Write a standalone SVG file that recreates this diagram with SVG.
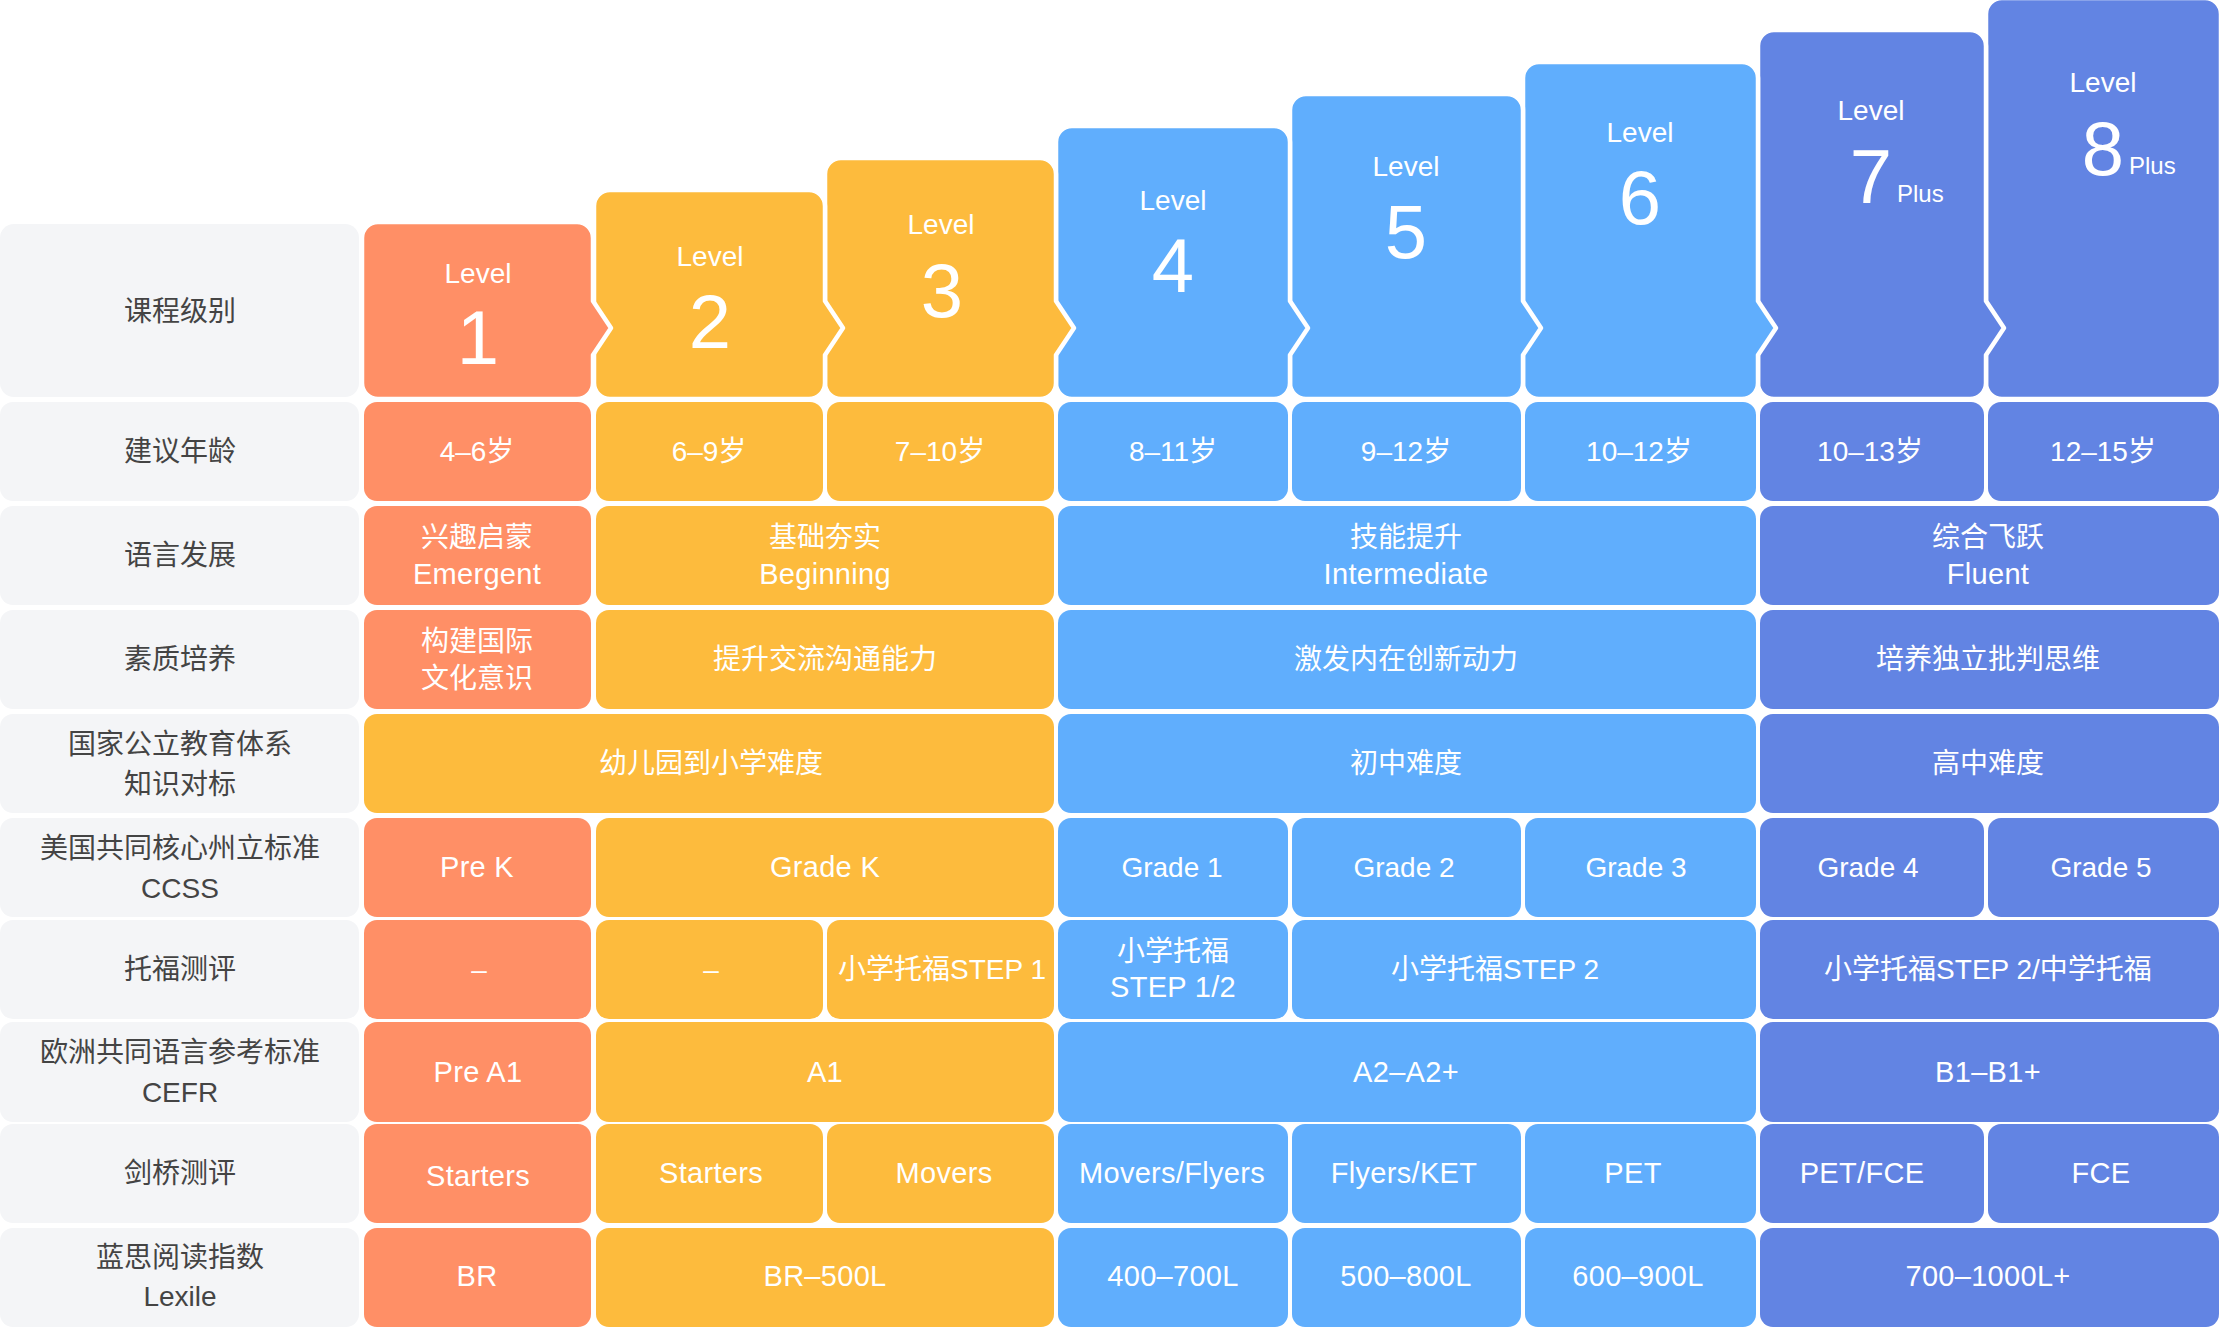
<svg xmlns="http://www.w3.org/2000/svg" width="2220" height="1328" viewBox="0 0 2220 1328">
<style>
.bg{fill:#ffffff}
.lab{fill:#F4F5F7}
.o{fill:#FF8F66}
.y{fill:#FDBB3D}
.b{fill:#60AEFD}
.i{fill:#6284E3}
.hd{stroke:#ffffff;stroke-width:4.5;stroke-linejoin:round}
text{font-family:"Liberation Sans","Noto Sans CJK SC",sans-serif;text-anchor:middle}
.lt{font-size:28px;fill:#444444}
.ct{font-size:28px;fill:#ffffff}
.en{font-size:29px;letter-spacing:0.3px}
.lv{font-size:28px;fill:#ffffff}
.nm{font-size:76px;fill:#ffffff}
.pl{font-size:24px;fill:#ffffff;text-anchor:start}
</style>
<rect class="bg" x="0" y="0" width="2220" height="1328"/>

<!-- header level blocks, drawn right to left so each chevron overlaps the next block -->
<g id="level-headers">
  <g id="level8">
    <path class="i hd" d="M2002,-2 H2205 A16,16 0 0 1 2221,14 V383 A16,16 0 0 1 2205,399 H2002 A16,16 0 0 1 1986,383 V14 A16,16 0 0 1 2002,-2 Z"/>
    <text class="lv" x="2103" y="92">Level</text>
    <text class="nm" x="2103" y="175">8</text>
    <text class="pl" x="2129" y="174">Plus</text>
  </g>
  <g id="level7">
    <path class="i hd" d="M1774,30 H1970 A16,16 0 0 1 1986,46 V301 L2004,328 L1986,355 V383 A16,16 0 0 1 1970,399 H1774 A16,16 0 0 1 1758,383 V46 A16,16 0 0 1 1774,30 Z"/>
    <text class="lv" x="1871" y="120">Level</text>
    <text class="nm" x="1871" y="203">7</text>
    <text class="pl" x="1897" y="202">Plus</text>
  </g>
  <g id="level6">
    <path class="b hd" d="M1539,62 H1742 A16,16 0 0 1 1758,78 V301 L1776,328 L1758,355 V383 A16,16 0 0 1 1742,399 H1539 A16,16 0 0 1 1523,383 V78 A16,16 0 0 1 1539,62 Z"/>
    <text class="lv" x="1640" y="142">Level</text>
    <text class="nm" x="1640" y="224">6</text>
  </g>
  <g id="level5">
    <path class="b hd" d="M1306,94 H1507 A16,16 0 0 1 1523,110 V301 L1541,328 L1523,355 V383 A16,16 0 0 1 1507,399 H1306 A16,16 0 0 1 1290,383 V110 A16,16 0 0 1 1306,94 Z"/>
    <text class="lv" x="1406" y="176">Level</text>
    <text class="nm" x="1406" y="258">5</text>
  </g>
  <g id="level4">
    <path class="b hd" d="M1072,126 H1274 A16,16 0 0 1 1290,142 V301 L1308,328 L1290,355 V383 A16,16 0 0 1 1274,399 H1072 A16,16 0 0 1 1056,383 V142 A16,16 0 0 1 1072,126 Z"/>
    <text class="lv" x="1173" y="210">Level</text>
    <text class="nm" x="1173" y="292">4</text>
  </g>
  <g id="level3">
    <path class="y hd" d="M841,158 H1040 A16,16 0 0 1 1056,174 V301 L1074,328 L1056,355 V383 A16,16 0 0 1 1040,399 H841 A16,16 0 0 1 825,383 V174 A16,16 0 0 1 841,158 Z"/>
    <text class="lv" x="941" y="234">Level</text>
    <text class="nm" x="942" y="317">3</text>
  </g>
  <g id="level2">
    <path class="y hd" d="M610,190 H809 A16,16 0 0 1 825,206 V301 L843,328 L825,355 V383 A16,16 0 0 1 809,399 H610 A16,16 0 0 1 594,383 V206 A16,16 0 0 1 610,190 Z"/>
    <text class="lv" x="710" y="266">Level</text>
    <text class="nm" x="710" y="348">2</text>
  </g>
  <g id="level1">
    <path class="o hd" d="M378,222 H577 A16,16 0 0 1 593,238 V301 L611,328 L593,355 V383 A16,16 0 0 1 577,399 H378 A16,16 0 0 1 362,383 V238 A16,16 0 0 1 378,222 Z"/>
    <text class="lv" x="478" y="283">Level</text>
    <text class="nm" x="478" y="364">1</text>
  </g>
</g>

<!-- row labels -->
<g id="row-labels">
  <g id="label-level"><rect class="lab" x="0" y="224" width="359" height="173" rx="14"/><text class="lt" x="180" y="321">课程级别</text></g>
  <g id="label-age"><rect class="lab" x="0" y="402" width="359" height="99" rx="13"/><text class="lt" x="180" y="461">建议年龄</text></g>
  <g id="label-language"><rect class="lab" x="0" y="506" width="359" height="99" rx="13"/><text class="lt" x="180" y="565">语言发展</text></g>
  <g id="label-quality"><rect class="lab" x="0" y="610" width="359" height="99" rx="13"/><text class="lt" x="180" y="669">素质培养</text></g>
  <g id="label-national"><rect class="lab" x="0" y="714" width="359" height="99" rx="13"/><text class="lt" x="180" y="754">国家公立教育体系</text><text class="lt" x="180" y="794">知识对标</text></g>
  <g id="label-ccss"><rect class="lab" x="0" y="818" width="359" height="99" rx="13"/><text class="lt" x="180" y="858">美国共同核心州立标准</text><text class="lt" x="180" y="898">CCSS</text></g>
  <g id="label-toefl"><rect class="lab" x="0" y="920" width="359" height="99" rx="13"/><text class="lt" x="180" y="979">托福测评</text></g>
  <g id="label-cefr"><rect class="lab" x="0" y="1022" width="359" height="100" rx="13"/><text class="lt" x="180" y="1062">欧洲共同语言参考标准</text><text class="lt" x="180" y="1102">CEFR</text></g>
  <g id="label-cambridge"><rect class="lab" x="0" y="1124" width="359" height="99" rx="13"/><text class="lt" x="180" y="1183">剑桥测评</text></g>
  <g id="label-lexile"><rect class="lab" x="0" y="1228" width="359" height="99" rx="13"/><text class="lt" x="180" y="1267">蓝思阅读指数</text><text class="lt" x="180" y="1306">Lexile</text></g>
</g>

<!-- row: 建议年龄 -->
<g id="row-age">
  <g id="age-l1"><rect class="o" x="364" y="402" width="227" height="99" rx="13"/><text class="ct" x="477" y="461">4–6岁</text></g>
  <g id="age-l2"><rect class="y" x="596" y="402" width="227" height="99" rx="13"/><text class="ct" x="709" y="461">6–9岁</text></g>
  <g id="age-l3"><rect class="y" x="827" y="402" width="227" height="99" rx="13"/><text class="ct" x="940" y="461">7–10岁</text></g>
  <g id="age-l4"><rect class="b" x="1058" y="402" width="230" height="99" rx="13"/><text class="ct" x="1173" y="461">8–11岁</text></g>
  <g id="age-l5"><rect class="b" x="1292" y="402" width="229" height="99" rx="13"/><text class="ct" x="1406" y="461">9–12岁</text></g>
  <g id="age-l6"><rect class="b" x="1525" y="402" width="231" height="99" rx="13"/><text class="ct" x="1639" y="461">10–12岁</text></g>
  <g id="age-l7"><rect class="i" x="1760" y="402" width="224" height="99" rx="13"/><text class="ct" x="1870" y="461">10–13岁</text></g>
  <g id="age-l8"><rect class="i" x="1988" y="402" width="231" height="99" rx="13"/><text class="ct" x="2103" y="461">12–15岁</text></g>
</g>

<!-- row: 语言发展 -->
<g id="row-language">
  <g id="lang-l1"><rect class="o" x="364" y="506" width="227" height="99" rx="13"/><text class="ct" x="477" y="547">兴趣启蒙</text><text class="ct en" x="477" y="584">Emergent</text></g>
  <g id="lang-l23"><rect class="y" x="596" y="506" width="458" height="99" rx="13"/><text class="ct" x="825" y="547">基础夯实</text><text class="ct en" x="825" y="584">Beginning</text></g>
  <g id="lang-l46"><rect class="b" x="1058" y="506" width="698" height="99" rx="13"/><text class="ct" x="1406" y="547">技能提升</text><text class="ct en" x="1406" y="584">Intermediate</text></g>
  <g id="lang-l78"><rect class="i" x="1760" y="506" width="459" height="99" rx="13"/><text class="ct" x="1988" y="547">综合飞跃</text><text class="ct en" x="1988" y="584">Fluent</text></g>
</g>

<!-- row: 素质培养 -->
<g id="row-quality">
  <g id="qual-l1"><rect class="o" x="364" y="610" width="227" height="99" rx="13"/><text class="ct" x="477" y="651">构建国际</text><text class="ct" x="477" y="688">文化意识</text></g>
  <g id="qual-l23"><rect class="y" x="596" y="610" width="458" height="99" rx="13"/><text class="ct" x="825" y="669">提升交流沟通能力</text></g>
  <g id="qual-l46"><rect class="b" x="1058" y="610" width="698" height="99" rx="13"/><text class="ct" x="1406" y="669">激发内在创新动力</text></g>
  <g id="qual-l78"><rect class="i" x="1760" y="610" width="459" height="99" rx="13"/><text class="ct" x="1988" y="669">培养独立批判思维</text></g>
</g>

<!-- row: 国家公立教育体系 -->
<g id="row-national">
  <g id="nat-l13"><rect class="y" x="364" y="714" width="690" height="99" rx="13"/><text class="ct" x="711" y="773">幼儿园到小学难度</text></g>
  <g id="nat-l46"><rect class="b" x="1058" y="714" width="698" height="99" rx="13"/><text class="ct" x="1406" y="773">初中难度</text></g>
  <g id="nat-l78"><rect class="i" x="1760" y="714" width="459" height="99" rx="13"/><text class="ct" x="1988" y="773">高中难度</text></g>
</g>

<!-- row: CCSS -->
<g id="row-ccss">
  <g id="ccss-l1"><rect class="o" x="364" y="818" width="227" height="99" rx="13"/><text class="ct en" x="477" y="877">Pre K</text></g>
  <g id="ccss-l23"><rect class="y" x="596" y="818" width="458" height="99" rx="13"/><text class="ct en" x="825" y="877">Grade K</text></g>
  <g id="ccss-l4"><rect class="b" x="1058" y="818" width="230" height="99" rx="13"/><text class="ct" x="1172" y="877">Grade 1</text></g>
  <g id="ccss-l5"><rect class="b" x="1292" y="818" width="229" height="99" rx="13"/><text class="ct" x="1404" y="877">Grade 2</text></g>
  <g id="ccss-l6"><rect class="b" x="1525" y="818" width="231" height="99" rx="13"/><text class="ct" x="1636" y="877">Grade 3</text></g>
  <g id="ccss-l7"><rect class="i" x="1760" y="818" width="224" height="99" rx="13"/><text class="ct" x="1868" y="877">Grade 4</text></g>
  <g id="ccss-l8"><rect class="i" x="1988" y="818" width="231" height="99" rx="13"/><text class="ct" x="2101" y="877">Grade 5</text></g>
</g>

<!-- row: 托福测评 -->
<g id="row-toefl">
  <g id="toefl-l1"><rect class="o" x="364" y="920" width="227" height="99" rx="13"/><text class="ct" x="479" y="979">–</text></g>
  <g id="toefl-l2"><rect class="y" x="596" y="920" width="227" height="99" rx="13"/><text class="ct" x="711" y="979">–</text></g>
  <g id="toefl-l3"><rect class="y" x="827" y="920" width="227" height="99" rx="13"/><text class="ct" x="942" y="979">小学托福STEP 1</text></g>
  <g id="toefl-l4"><rect class="b" x="1058" y="920" width="230" height="99" rx="13"/><text class="ct" x="1173" y="961">小学托福</text><text class="ct en" x="1173" y="997">STEP 1/2</text></g>
  <g id="toefl-l56"><rect class="b" x="1292" y="920" width="464" height="99" rx="13"/><text class="ct" x="1495" y="979">小学托福STEP 2</text></g>
  <g id="toefl-l78"><rect class="i" x="1760" y="920" width="459" height="99" rx="13"/><text class="ct" x="1988" y="979">小学托福STEP 2/中学托福</text></g>
</g>

<!-- row: CEFR -->
<g id="row-cefr">
  <g id="cefr-l1"><rect class="o" x="364" y="1022" width="227" height="100" rx="13"/><text class="ct en" x="478" y="1082">Pre A1</text></g>
  <g id="cefr-l23"><rect class="y" x="596" y="1022" width="458" height="100" rx="13"/><text class="ct en" x="825" y="1082">A1</text></g>
  <g id="cefr-l46"><rect class="b" x="1058" y="1022" width="698" height="100" rx="13"/><text class="ct en" x="1406" y="1082">A2–A2+</text></g>
  <g id="cefr-l78"><rect class="i" x="1760" y="1022" width="459" height="100" rx="13"/><text class="ct en" x="1988" y="1082">B1–B1+</text></g>
</g>

<!-- row: 剑桥测评 -->
<g id="row-cambridge">
  <g id="cam-l1"><rect class="o" x="364" y="1124" width="227" height="99" rx="13"/><text class="ct en" x="478" y="1186">Starters</text></g>
  <g id="cam-l2"><rect class="y" x="596" y="1124" width="227" height="99" rx="13"/><text class="ct en" x="711" y="1183">Starters</text></g>
  <g id="cam-l3"><rect class="y" x="827" y="1124" width="227" height="99" rx="13"/><text class="ct en" x="944" y="1183">Movers</text></g>
  <g id="cam-l4"><rect class="b" x="1058" y="1124" width="230" height="99" rx="13"/><text class="ct en" x="1172" y="1183">Movers/Flyers</text></g>
  <g id="cam-l5"><rect class="b" x="1292" y="1124" width="229" height="99" rx="13"/><text class="ct en" x="1404" y="1183">Flyers/KET</text></g>
  <g id="cam-l6"><rect class="b" x="1525" y="1124" width="231" height="99" rx="13"/><text class="ct en" x="1633" y="1183">PET</text></g>
  <g id="cam-l7"><rect class="i" x="1760" y="1124" width="224" height="99" rx="13"/><text class="ct en" x="1862" y="1183">PET/FCE</text></g>
  <g id="cam-l8"><rect class="i" x="1988" y="1124" width="231" height="99" rx="13"/><text class="ct en" x="2101" y="1183">FCE</text></g>
</g>

<!-- row: 蓝思阅读指数 -->
<g id="row-lexile">
  <g id="lex-l1"><rect class="o" x="364" y="1228" width="227" height="99" rx="13"/><text class="ct en" x="477" y="1286">BR</text></g>
  <g id="lex-l23"><rect class="y" x="596" y="1228" width="458" height="99" rx="13"/><text class="ct en" x="825" y="1286">BR–500L</text></g>
  <g id="lex-l4"><rect class="b" x="1058" y="1228" width="230" height="99" rx="13"/><text class="ct en" x="1173" y="1286">400–700L</text></g>
  <g id="lex-l5"><rect class="b" x="1292" y="1228" width="229" height="99" rx="13"/><text class="ct en" x="1406" y="1286">500–800L</text></g>
  <g id="lex-l6"><rect class="b" x="1525" y="1228" width="231" height="99" rx="13"/><text class="ct en" x="1638" y="1286">600–900L</text></g>
  <g id="lex-l78"><rect class="i" x="1760" y="1228" width="459" height="99" rx="13"/><text class="ct en" x="1988" y="1286">700–1000L+</text></g>
</g>

<g id="connectors"></g>
</svg>
